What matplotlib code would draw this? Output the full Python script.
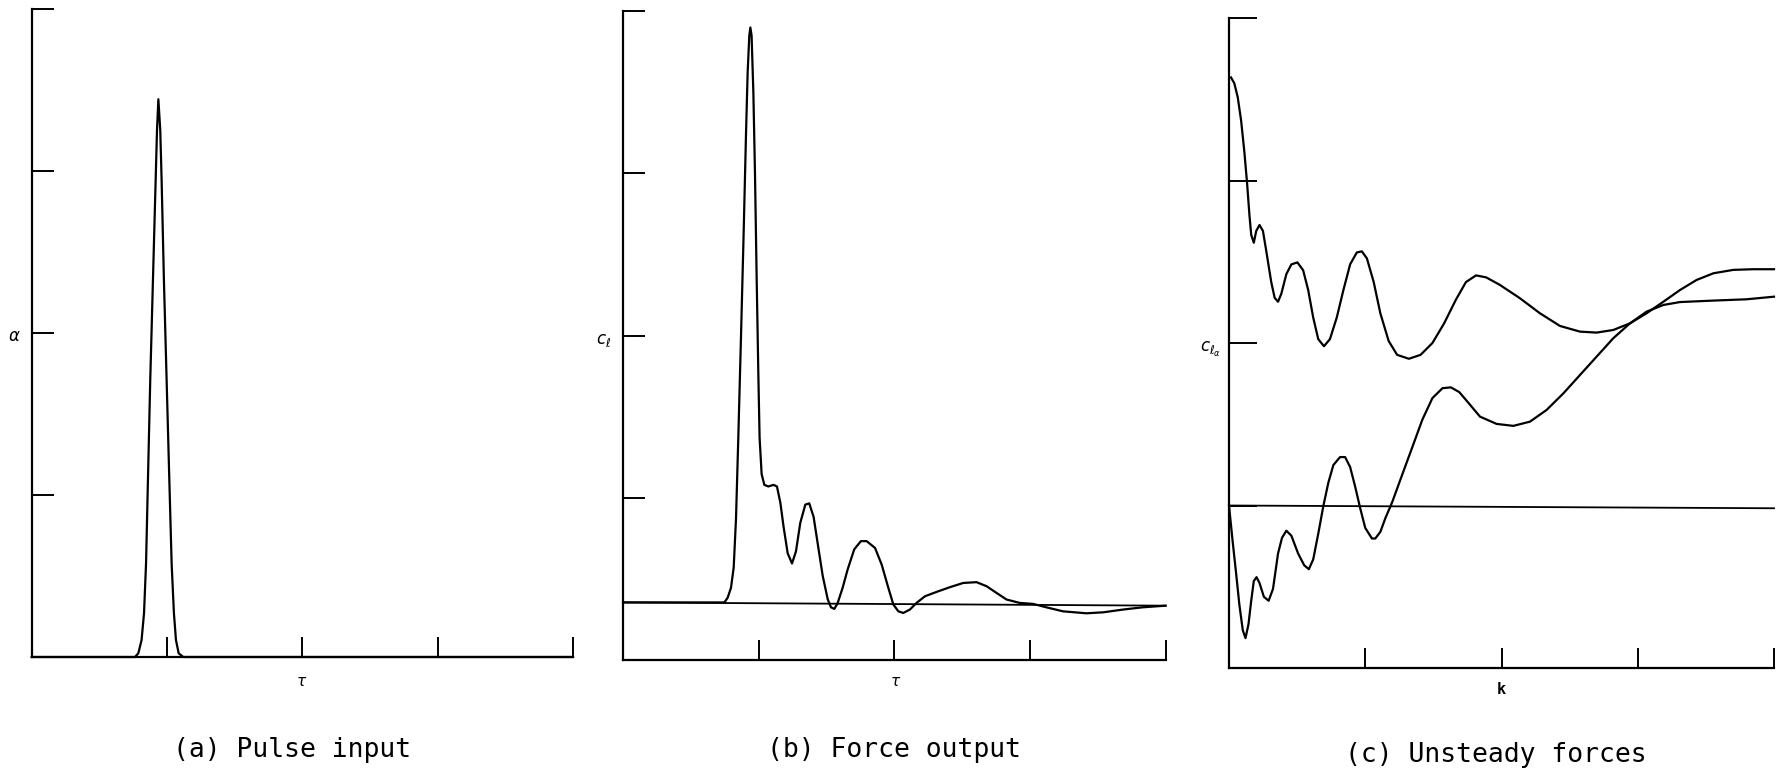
import matplotlib.pyplot as plt

W, H = 1776, 777

# (a) pulse input (x and y in tick units)
pulse_x = [0.0, 0.763, 0.788, 0.812, 0.830, 0.845, 0.859, 0.876, 0.896, 0.916,
           0.926, 0.936, 0.950, 0.960, 0.977, 0.997, 1.017, 1.034, 1.051,
           1.066, 1.086, 1.12, 4.0]
pulse_y = [0.0, 0.0, 0.023, 0.105, 0.27, 0.578, 1.093, 1.71, 2.327, 2.945,
           3.253, 3.443, 3.253, 2.945, 2.327, 1.71, 1.093, 0.578, 0.27,
           0.105, 0.023, 0.0, 0.0]

# (b) force output
force_x = [0.0, 0.747, 0.771, 0.796, 0.816, 0.833, 0.85, 0.87, 0.889, 0.907,
           0.919, 0.931, 0.939, 0.948, 0.961, 0.973, 0.985, 0.998, 1.007,
           1.022, 1.042, 1.071, 1.11, 1.135, 1.16, 1.184, 1.214, 1.246, 1.275,
           1.307, 1.344, 1.373, 1.405, 1.435, 1.472, 1.509, 1.533, 1.558,
           1.582, 1.619, 1.656, 1.705, 1.754, 1.796, 1.858, 1.907, 1.956,
           1.993, 2.03, 2.066, 2.115, 2.164, 2.226, 2.312, 2.41, 2.508, 2.606,
           2.68, 2.753, 2.827, 2.925, 3.023, 3.12, 3.244, 3.416, 3.54, 3.686,
           3.833, 4.0]
force_y = [0.355, 0.355, 0.383, 0.445, 0.57, 0.87, 1.37, 2.0, 2.62, 3.25,
           3.625, 3.85, 3.90, 3.85, 3.50, 3.0, 2.37, 1.75, 1.37,
           1.146, 1.08, 1.07, 1.08, 1.07, 0.97, 0.82, 0.658, 0.595, 0.67,
           0.846, 0.958, 0.966, 0.883, 0.72, 0.52, 0.375, 0.325, 0.315,
           0.35, 0.445, 0.558, 0.683, 0.733, 0.733, 0.691, 0.588, 0.445,
           0.342, 0.30, 0.29, 0.311, 0.352, 0.393, 0.42, 0.449, 0.475, 0.48,
           0.455, 0.414, 0.373, 0.352, 0.346, 0.325, 0.30, 0.288, 0.294, 0.311,
           0.325, 0.335]
force_base_x = [0.0, 4.0]
force_base_y = [0.355, 0.335]

# (c) unsteady forces, upper and lower curves
upper_x = [0.015, 0.039, 0.064, 0.089, 0.113, 0.133, 0.15, 0.163, 0.182, 0.2,
           0.224, 0.249, 0.273, 0.31, 0.335, 0.36, 0.384, 0.421, 0.458, 0.502,
           0.544, 0.581, 0.618, 0.655, 0.697, 0.741, 0.791, 0.84, 0.889, 0.938,
           0.975, 1.012, 1.062, 1.111, 1.172, 1.234, 1.32, 1.406, 1.493, 1.579,
           1.665, 1.739, 1.813, 1.887, 1.989, 2.136, 2.282, 2.429, 2.576,
           2.698, 2.82, 2.943, 3.065, 3.188, 3.31, 3.432, 3.555, 3.701, 3.848,
           4.0]
upper_y = [3.634, 3.598, 3.513, 3.368, 3.174, 2.98, 2.787, 2.666, 2.617, 2.69,
           2.726, 2.69, 2.569, 2.375, 2.278, 2.254, 2.303, 2.424, 2.484, 2.496,
           2.448, 2.327, 2.157, 2.024, 1.98, 2.024, 2.157, 2.327, 2.484, 2.557,
           2.564, 2.521, 2.375, 2.182, 2.012, 1.927, 1.903, 1.927, 2.0, 2.121,
           2.266, 2.375, 2.416, 2.404, 2.357, 2.275, 2.183, 2.105, 2.07,
           2.064, 2.08, 2.121, 2.183, 2.254, 2.326, 2.388, 2.429, 2.45, 2.454,
           2.454]
lower_x = [0.0, 0.027, 0.052, 0.076, 0.101, 0.121, 0.143, 0.163, 0.182, 0.202,
           0.224, 0.256, 0.291, 0.323, 0.36, 0.389, 0.421, 0.458, 0.507, 0.552,
           0.586, 0.618, 0.655, 0.692, 0.729, 0.766, 0.815, 0.852, 0.889, 0.926,
           0.963, 1.0, 1.049, 1.074, 1.111, 1.148, 1.197, 1.271, 1.345, 1.419,
           1.493, 1.567, 1.628, 1.69, 1.764, 1.842, 1.964, 2.087, 2.209, 2.331,
           2.454, 2.576, 2.698, 2.82, 2.943, 3.065, 3.188, 3.31, 3.555, 3.799,
           4.0]
lower_y = [1.0, 0.777, 0.584, 0.39, 0.233, 0.184, 0.269, 0.414, 0.535, 0.559,
           0.523, 0.438, 0.414, 0.487, 0.705, 0.801, 0.845, 0.814, 0.705, 0.632,
           0.608, 0.668, 0.826, 0.995, 1.14, 1.249, 1.298, 1.298, 1.237, 1.116,
           0.983, 0.862, 0.797, 0.797, 0.838, 0.923, 1.019, 1.189, 1.358, 1.528,
           1.661, 1.722, 1.727, 1.698, 1.625, 1.547, 1.502, 1.49, 1.516, 1.588,
           1.69, 1.803, 1.916, 2.029, 2.121, 2.193, 2.234, 2.252, 2.261, 2.269,
           2.285]
zero_c_x = [0.0, 4.0]
zero_c_y = [1.0, 0.983]

xticks = [1, 2, 3, 4]
yticks = [0, 1, 2, 3, 4]

LW = 1.6


def px_rect(l, t, r, b):
    return [l / W, 1 - b / H, (r - l) / W, (b - t) / H]


def style(ax, ylen):
    ax.set_xlim(0, 4)
    ax.set_ylim(0, 4)
    ax.set_xticks(xticks)
    ax.set_yticks(yticks)
    for s in ["top", "right"]:
        ax.spines[s].set_visible(False)
    for s in ["left", "bottom"]:
        ax.spines[s].set_linewidth(LW)
    ax.tick_params(axis="x", direction="in", length=14.5, width=1.4,
                   labelbottom=False)
    ax.tick_params(axis="y", direction="in", length=ylen, width=1.4,
                   labelleft=False)


fig = plt.figure(figsize=(W / 100, H / 100), dpi=100)

ax_a = fig.add_axes(px_rect(31.7, 9, 573, 657))
ax_b = fig.add_axes(px_rect(623, 11.3, 1165.6, 660))
ax_c = fig.add_axes(px_rect(1229, 18, 1774, 668))

style(ax_a, 16)
style(ax_b, 16)
style(ax_c, 20)

line = dict(color="black", lw=LW, clip_on=False, solid_joinstyle="round")

ax_a.plot(pulse_x, pulse_y, **line)

ax_b.plot(force_base_x, force_base_y, color="black", lw=1.3, clip_on=False)
ax_b.plot(force_x, force_y, **line)

ax_c.plot(zero_c_x, zero_c_y, color="black", lw=1.3, clip_on=False)
ax_c.plot(upper_x, upper_y, **line)
ax_c.plot(lower_x, lower_y, **line)


def ftext(x, y, s, **kw):
    fig.text(x / W, 1 - y / H, s, ha="center", va="center", **kw)


ftext(14, 336, r"$\alpha$", fontsize=12)
ftext(604, 340, r"$c_{\ell}$", fontsize=12)
ftext(1211, 349, r"$c_{\ell_{\alpha}}$", fontsize=12)
ftext(302, 681, r"$\tau$", fontsize=11)
ftext(896, 681, r"$\tau$", fontsize=11)
ftext(1501, 689, "k", fontsize=11, family="DejaVu Sans Mono", weight="bold")

cap = dict(fontsize=19, family="DejaVu Sans Mono")
ftext(292, 750, "(a) Pulse input", **cap)
ftext(894, 750, "(b) Force output", **cap)
ftext(1496, 755, "(c) Unsteady forces", **cap)

plt.savefig("out.png", dpi=100)
plt.close()
